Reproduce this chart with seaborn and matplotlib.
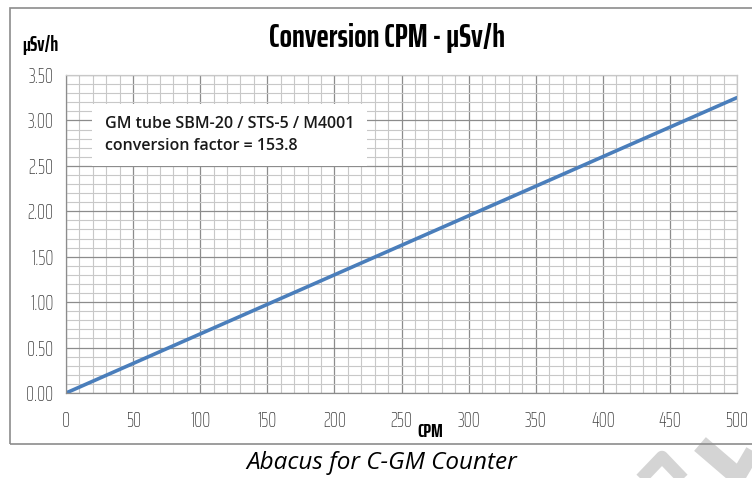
import matplotlib
matplotlib.use('Agg')
import matplotlib.pyplot as plt
from matplotlib.patches import Rectangle
from matplotlib.lines import Line2D
import seaborn as sns
import numpy as np
import pandas as pd

# data
cpm = [0, 500]
conversion_factor = 153.8
usvh = [c / conversion_factor for c in cpm]
x_ticks = [0, 50, 100, 150, 200, 250, 300, 350, 400, 450, 500]
y_ticks = [0.0, 0.5, 1.0, 1.5, 2.0, 2.5, 3.0, 3.5]

df = pd.DataFrame({'CPM': cpm, 'uSv/h': usvh})

sns.set_style('white')
narrow = ['Saira ExtraCondensed', 'DejaVu Sans']
plt.rcParams['font.family'] = narrow

fig = plt.figure(figsize=(7.52, 4.78), dpi=100)
ax = fig.add_axes([66 / 752, 1 - 393 / 478, (737 - 66) / 752, (393 - 75) / 478])

# grid
ax.set_xlim(0, 500)
ax.set_ylim(0, 3.5)
ax.set_xticks(x_ticks)
ax.set_yticks(y_ticks)
ax.set_xticks(np.arange(0, 501, 10), minor=True)
ax.set_yticks(np.arange(0, 3.51, 0.1), minor=True)
ax.grid(which='minor', color='#c8c8c8', linewidth=0.8)
ax.grid(which='major', color='#8c8c8c', linewidth=0.9)
ax.set_axisbelow(True)

sns.lineplot(data=df, x='CPM', y='uSv/h', ax=ax, color='#4a7ebb', linewidth=2.6)

ax.set_xticklabels([str(v) for v in x_ticks], fontweight='light')
ax.set_yticklabels([f'{v:.2f}' for v in y_ticks], fontweight='light')
ax.tick_params(axis='both', which='major', length=5, width=0.9, color='#8c8c8c',
               labelsize=14.5, labelcolor='#404040', pad=8)
ax.tick_params(axis='both', which='minor', length=0)
ax.tick_params(axis='y', pad=4)
for side in ['left', 'bottom', 'right', 'top']:
    ax.spines[side].set_color('#8c8c8c')
    ax.spines[side].set_linewidth(0.9)
ax.spines['top'].set_color('#c8c8c8')
ax.spines['right'].set_color('#c8c8c8')
ax.set_xlabel('')
ax.set_ylabel('')

# outer chart frame
fig.patches.append(Rectangle((10 / 752, 1 - 444 / 478), 1.0, 436 / 478,
                             transform=fig.transFigure, fill=False,
                             edgecolor='#8c8c8c', linewidth=1.2))

fig.text(387 / 752, 1 - 38 / 478, 'Conversion CPM - μSv/h', ha='center', va='center',
         fontsize=23.5, fontweight='bold', color='black')
fig.text(22 / 752, 1 - 45 / 478, 'μSv/h', ha='left', va='center',
         fontsize=14.5, fontweight='bold', color='black')
fig.text(430 / 752, 1 - 432 / 478, 'CPM', ha='center', va='center',
         fontsize=14, fontweight='bold', color='black')

# annotation box
ax.text((105 - 66) / 671, (393 - 135) / 318,
        'GM tube SBM-20 / STS-5 / M4001\nconversion factor = 153.8',
        transform=ax.transAxes, ha='left', va='center', fontsize=11.5,
        fontweight='semibold', family=['Open Sans', 'DejaVu Sans'], color='#1a1a1a',
        linespacing=1.45,
        bbox=dict(boxstyle='square,pad=0.8', facecolor='white', edgecolor='none'))

fig.text(382 / 752, 1 - 463 / 478, 'Abacus for C-GM Counter', ha='center', va='center',
         fontsize=17.5, style='italic', family=['Open Sans', 'DejaVu Sans'], color='black')

# faint watermark strokes
wm = '#d4d4d4'
for xs, ys, lw in [([640, 662, 684], [480, 457, 480], 9),
                   ([700, 742], [444, 480], 13),
                   ([736, 756], [480, 446], 11)]:
    fig.lines.append(Line2D([x / 752 for x in xs], [1 - y / 478 for y in ys],
                            transform=fig.transFigure, color=wm, linewidth=lw,
                            solid_capstyle='butt', solid_joinstyle='round', zorder=0))

fig.savefig('out.png', dpi=100)
